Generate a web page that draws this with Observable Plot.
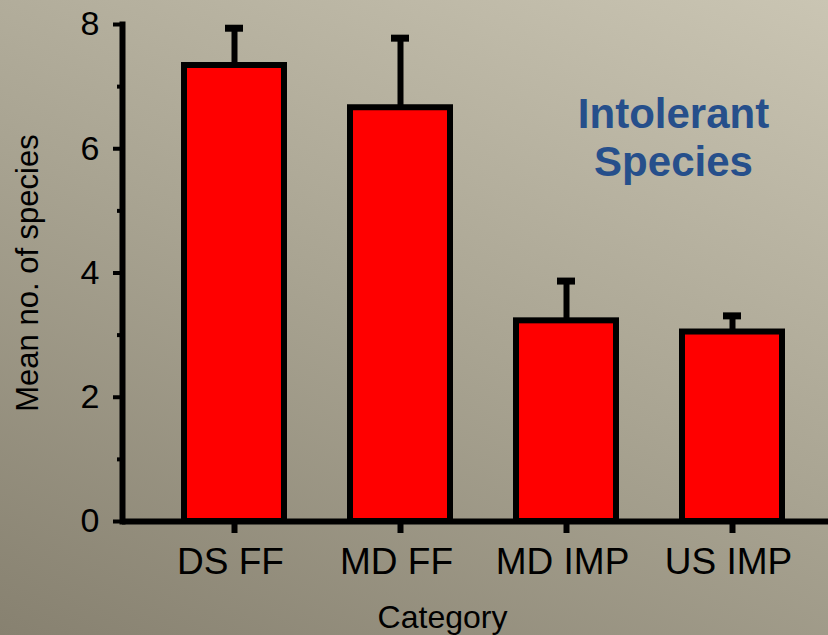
<!DOCTYPE html>
<html>
<head>
<meta charset="utf-8">
<script src="https://cdn.jsdelivr.net/npm/d3@7"></script>
<script src="https://cdn.jsdelivr.net/npm/@observablehq/plot@0.6"></script>
<style>
  html, body { margin: 0; padding: 0; }
  body {
    width: 828px; height: 635px; overflow: hidden;
    background: linear-gradient(24deg, #878170 0%, #a9a492 50%, #cac5b3 100%);
    font-family: "Liberation Sans", Arial, sans-serif;
  }
</style>
</head>
<body>
<div id="chart"></div>
<script>
// Mean number of intolerant species per site category, with the upper error bar
const categories = ["DS FF", "MD FF", "MD IMP", "US IMP"];
const means = [7.34, 6.66, 3.23, 3.05];
const upper = [7.94, 7.78, 3.87, 3.31];
const yMajorTicks = [0, 2, 4, 6, 8];
const yMinorTicks = [1, 3, 5, 7];

const rows = categories.map((category, i) => ({category, mean: means[i], upper: upper[i]}));

const chart = Plot.plot({
  width: 828,
  height: 635,
  marginTop: 24,
  marginLeft: 122,
  marginRight: 0,
  marginBottom: 114,
  style: {background: "transparent", fontFamily: "'Liberation Sans', Arial, sans-serif", color: "#000"},
  x: {domain: categories, range: [151, 815], paddingInner: 0.4, paddingOuter: 0.2, label: null},
  y: {domain: [0, 8], label: null},
  marks: [
    // error bar stems and caps
    Plot.ruleX(rows, {x: "category", y1: "mean", y2: "upper", stroke: "#000", strokeWidth: 6}),
    Plot.tickY(rows, {x: "category", y: "upper", stroke: "#000", strokeWidth: 7, insetLeft: 41, insetRight: 41}),
    // bars
    Plot.barY(rows, {x: "category", y: "mean", fill: "#ff0000", stroke: "#000", strokeWidth: 6}),
    // axis lines
    Plot.frame({anchor: "left", stroke: "#000", strokeWidth: 6}),
    Plot.ruleY([0], {stroke: "#000", strokeWidth: 6}),
    // y axis ticks
    Plot.axisY({ticks: yMajorTicks, tickSize: 9, tickPadding: 14, strokeWidth: 4, fontSize: 34, label: null, tickFormat: d3.format("d")}),
    Plot.axisY({ticks: yMinorTicks, tickSize: 5, strokeWidth: 4, text: null, label: null}),
    // x axis ticks and category labels
    Plot.axisX({tickSize: 12, strokeWidth: 6, text: null, label: null}),
    Plot.axisX({tickSize: 12, tickPadding: 14, stroke: null, fontSize: 37, dx: -4, label: null}),
    // axis titles
    Plot.text(["Mean no. of species"], {frameAnchor: "left", rotate: -90, dx: -94, textAnchor: "middle", lineAnchor: "middle", fontSize: 31, fill: "#000"}),
    Plot.text(["Category"], {frameAnchor: "bottom", dx: -33, dy: 96, textAnchor: "middle", lineAnchor: "middle", fontSize: 32, fill: "#000"}),
    // panel annotation
    Plot.text(["Intolerant\nSpecies"], {frameAnchor: "top-right", dx: -155, dy: 69, lineAnchor: "top", textAnchor: "middle", lineHeight: 1.15, fontSize: 42, fontWeight: "bold", fill: "#264f8b"})
  ]
});
document.getElementById("chart").append(chart);
</script>
</body>
</html>
